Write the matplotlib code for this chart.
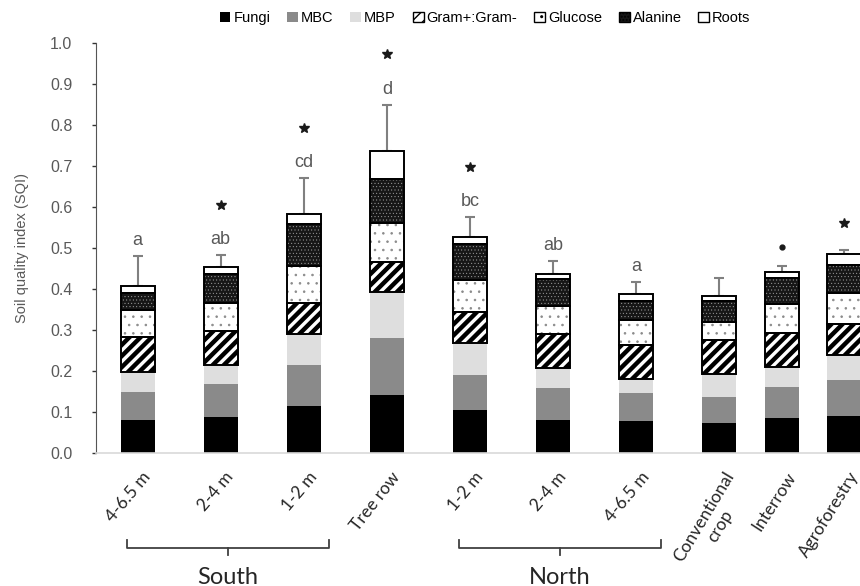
import matplotlib
matplotlib.use('Agg')
import matplotlib.pyplot as plt
import matplotlib as mpl
from matplotlib.patches import Patch
from matplotlib.transforms import blended_transform_factory, ScaledTranslation
import numpy as np

# ---------------- data ----------------
categories = ['4-6.5 m', '2-4 m', '1-2 m', 'Tree row', '1-2 m', '2-4 m', '4-6.5 m',
              'Conventional\ncrop', 'Interrow', 'Agroforestry']
fungi   = [0.080, 0.088, 0.115, 0.141, 0.104, 0.080, 0.078, 0.074, 0.085, 0.090]
mbc     = [0.070, 0.080, 0.099, 0.139, 0.086, 0.079, 0.068, 0.063, 0.076, 0.087]
mbp     = [0.048, 0.047, 0.077, 0.113, 0.079, 0.048, 0.034, 0.055, 0.049, 0.061]
gram    = [0.086, 0.083, 0.076, 0.073, 0.075, 0.083, 0.083, 0.083, 0.083, 0.077]
glucose = [0.066, 0.069, 0.089, 0.096, 0.078, 0.070, 0.061, 0.045, 0.071, 0.076]
alanine = [0.041, 0.069, 0.102, 0.106, 0.087, 0.065, 0.047, 0.051, 0.062, 0.067]
roots   = [0.017, 0.018, 0.026, 0.070, 0.018, 0.012, 0.016, 0.012, 0.016, 0.028]
sd      = [0.072, 0.029, 0.087, 0.112, 0.049, 0.031, 0.031, 0.043, 0.014, 0.009]
letters = ['a', 'ab', 'cd', 'd', 'bc', 'ab', 'a', '', '', '']
marks   = ['', '*', '*', '*', '*', '', '', '', '.', '*']
series_names = ['Fungi', 'MBC', 'MBP', 'Gram+:Gram-', 'Glucose', 'Alanine', 'Roots']
groups = [('South', 0, 2), ('North', 4, 6)]

# ---------------- layout ----------------
x_pos = np.array([0, 1, 2, 3, 4, 5, 6, 7, 7.75, 8.5])
rotations = [50, 50, 50, 52, 50, 50, 50, 59, 57, 58]
bar_w = 0.41

plt.rcParams['font.family'] = ['Liberation Sans', 'DejaVu Sans']
GRAY_TXT = '#595959'

fig = plt.figure(figsize=(8.6, 5.86), dpi=100)
ax = fig.add_axes([96 / 860, 133 / 586, 764 / 860, 409.7 / 586])
ax.set_xlim(-0.5, -0.5 + 764 / 83.1)
ax.set_ylim(0, 1.0)

segs = [fungi, mbc, mbp, gram, glucose, alanine, roots]
styles = [
    dict(facecolor='black', edgecolor='none', hatch=None, hlw=1.0),
    dict(facecolor='#8a8a8a', edgecolor='none', hatch=None, hlw=1.0),
    dict(facecolor='#dedede', edgecolor='none', hatch=None, hlw=1.0),
    dict(facecolor='white', edgecolor='black', hatch='///', hlw=3.2),
    dict(facecolor='white', edgecolor='#8a8a8a', hatch='..', hlw=0.6),
    dict(facecolor='#161616', edgecolor='#a8a8a8', hatch='.....', hlw=0.3),
    dict(facecolor='white', edgecolor='white', hatch=None, hlw=1.0),
]


def styled_bars(x, h, b, st):
    mpl.rcParams['hatch.linewidth'] = st['hlw']
    bars = ax.bar(x, h, bar_w, bottom=b, facecolor=st['facecolor'],
                  edgecolor=st['edgecolor'], linewidth=0, hatch=st['hatch'], zorder=2)
    for p in bars:
        if hasattr(p, 'set_hatch_linewidth'):
            p.set_hatch_linewidth(st['hlw'])
    return bars


bottom = np.zeros(len(categories))
for i, (vals, st) in enumerate(zip(segs, styles)):
    vals = np.array(vals)
    styled_bars(x_pos, vals, bottom, st)
    if i >= 3:
        ax.bar(x_pos, vals, bar_w, bottom=bottom, fill=False, edgecolor='black',
               linewidth=1.4, zorder=3)
    bottom = bottom + vals

totals = bottom
sd = np.array(sd)
ax.errorbar(x_pos, totals, yerr=[np.zeros_like(sd), sd], fmt='none', ecolor='#808080',
            elinewidth=1.5, capsize=3.5, capthick=1.5, zorder=1)

for x, t, s, let, mk in zip(x_pos, totals, sd, letters, marks):
    top = t + s
    if let:
        ly = top + 0.038
        ax.text(x, ly, let, ha='center', va='center', fontsize=13, color=GRAY_TXT)
        sy = ly + 0.085
    else:
        sy = top + 0.066
    if mk == '*':
        ax.plot([x], [sy], marker='*', ms=7.5, color='#1a1a1a', lw=0, zorder=4)
    elif mk == '.':
        ax.plot([x], [top + 0.046], marker='o', ms=3.5, color='#1a1a1a', lw=0, zorder=4)

# axes styling
for s in ['top', 'right']:
    ax.spines[s].set_visible(False)
ax.spines['left'].set_color('#555555')
ax.spines['bottom'].set_color('#d9d9d9')
ax.spines['bottom'].set_linewidth(1.2)
ax.set_yticks(np.arange(0, 1.01, 0.1))
ax.set_yticklabels([f'{v:.1f}' for v in np.arange(0, 1.01, 0.1)])
ax.tick_params(axis='y', direction='out', length=3, width=1, color='#333333',
               labelsize=11.5, labelcolor=GRAY_TXT, pad=14)
ax.tick_params(axis='x', length=0)
ax.set_xticks([])
ax.set_ylabel('Soil quality index (SQI)', fontsize=10.5, color=GRAY_TXT, labelpad=15)

# rotated category labels
trans_lbl = blended_transform_factory(ax.transData, ax.transAxes)
for x, lab, rot in zip(x_pos, categories, rotations):
    off = ScaledTranslation(4 / 100, -16 / 100, fig.dpi_scale_trans)
    ax.text(x, 0, lab, rotation=rot, rotation_mode='anchor', ha='right', va='top',
            multialignment='center', fontsize=12.5, family=['Lato', 'DejaVu Sans'],
            color='#262626', transform=trans_lbl + off, clip_on=False)

# group brackets
for name, i0, i1 in groups:
    xl = x_pos[i0] - 0.13
    xr = x_pos[i1] + 0.30
    xm = (xl + xr) / 2
    ax.plot([xl, xl, xr, xr], [-0.212, -0.232, -0.232, -0.212], color='#404040',
            lw=1.3, transform=trans_lbl, clip_on=False)
    ax.plot([xm, xm], [-0.232, -0.249], color='#404040', lw=1.3,
            transform=trans_lbl, clip_on=False)
    ax.text(xm, -0.303, name, ha='center', va='center', fontsize=17,
            family=['Lato', 'DejaVu Sans'], color='#262626', transform=trans_lbl)

# legend
handles = []
for name, st in zip(series_names, styles):
    mpl.rcParams['hatch.linewidth'] = min(st['hlw'], 1.0)
    ec = 'black' if name in ('Gram+:Gram-', 'Glucose', 'Alanine', 'Roots') else 'none'
    hp = Patch(facecolor=st['facecolor'], edgecolor=ec, hatch=st['hatch'], linewidth=1.0)
    if hasattr(hp, 'set_hatch_linewidth'):
        hp.set_hatch_linewidth(min(st['hlw'], 1.0))
    handles.append(hp)
fig.legend(handles, series_names, loc='center', bbox_to_anchor=(485 / 860, 1 - 18 / 586),
           ncol=7, frameon=False, fontsize=10.5, handlelength=0.75, handleheight=0.75,
           handletextpad=0.2, columnspacing=1.15, borderaxespad=0, borderpad=0)

fig.savefig('out.png', dpi=100)
